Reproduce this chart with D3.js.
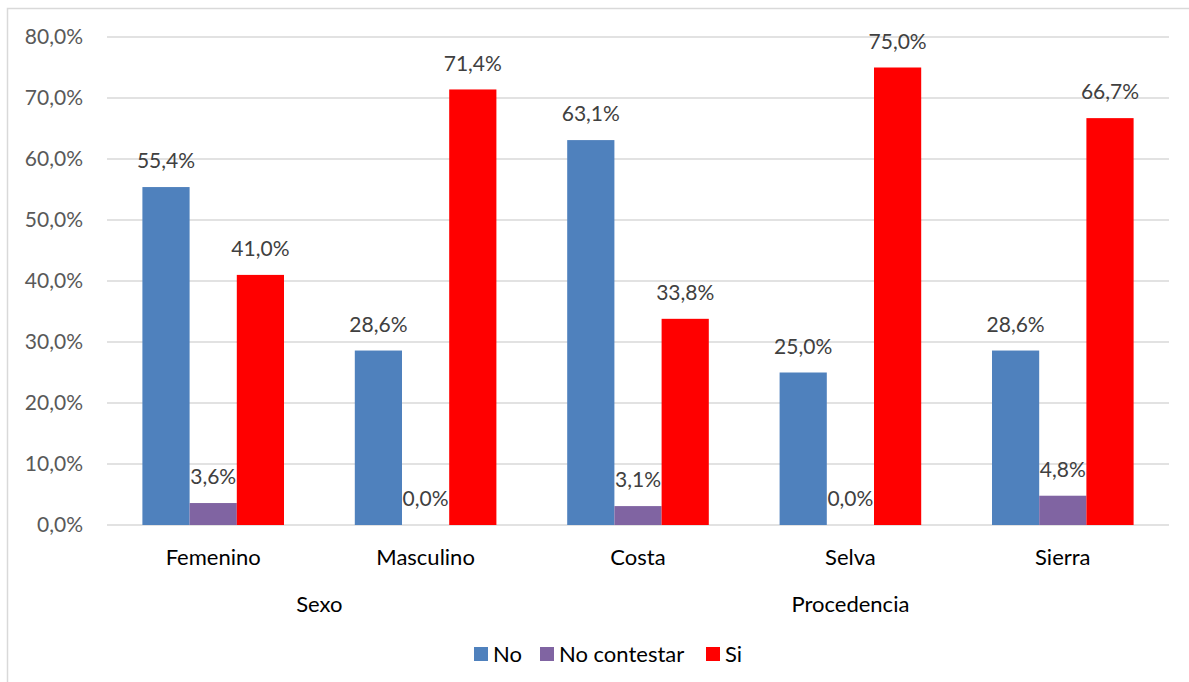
<!DOCTYPE html>
<html>
<head>
<meta charset="utf-8">
<script src="https://cdn.jsdelivr.net/npm/d3@7"></script>
<style>
  body { margin: 0; background: #fff; }
  svg { font-family: Lato, "Liberation Sans", sans-serif; }
</style>
</head>
<body>
<svg id="chart" width="1189" height="682"></svg>
<script>
// chart data
var categories = ["Femenino", "Masculino", "Costa", "Selva", "Sierra"];
var groups = [
    { name: "Sexo", from: 0, to: 1 },
    { name: "Procedencia", from: 2, to: 4 }
];
var seriesNames = ["No", "No contestar", "Si"];
var noValues = [55.4, 28.6, 63.1, 25.0, 28.6];
var noContestarValues = [3.6, 0.0, 3.1, 0.0, 4.8];
var siValues = [41.0, 71.4, 33.8, 75.0, 66.7];
var yTicks = [0, 10, 20, 30, 40, 50, 60, 70, 80];

var colors = ["#4f81bd", "#8064a2", "#ff0000"];
var seriesValues = [noValues, noContestarValues, siValues];

var svg = d3.select("#chart");
var plotLeft = 107, plotRight = 1169, plotTop = 37, plotBottom = 525;
var fontSize = "21px";
var labelSize = "22px";

// frame
svg.append("path")
    .attr("d", "M7.5,682 V8.5 H1189")
    .attr("fill", "none")
    .attr("stroke", "#d9d9d9")
    .attr("stroke-width", 1.5);

var x0 = d3.scaleBand().domain(categories).range([plotLeft, plotRight]).padding(0);
var x1 = d3.scaleBand().domain(seriesNames).range([0, x0.bandwidth()])
    .paddingInner(0).paddingOuter(0.75);
var y = d3.scaleLinear().domain([0, 80]).range([plotBottom, plotTop]);

var fmt = function (v) { return v.toFixed(1).replace(".", ",") + "%"; };

// gridlines
svg.append("g").selectAll("line")
    .data(yTicks)
    .enter()
    .append("line")
    .attr("x1", plotLeft).attr("x2", plotRight)
    .attr("y1", function (d) { return y(d); })
    .attr("y2", function (d) { return y(d); })
    .attr("stroke", "#d9d9d9")
    .attr("stroke-width", 1.5);

// y tick labels
svg.append("g").selectAll("text")
    .data(yTicks)
    .enter()
    .append("text")
    .attr("x", 83)
    .attr("y", function (d) { return y(d); })
    .attr("dy", "0.35em")
    .attr("text-anchor", "end")
    .attr("fill", "#595959")
    .style("font-size", fontSize)
    .text(fmt);

// bars
var cat = svg.append("g").selectAll("g")
    .data(categories)
    .enter()
    .append("g")
    .attr("transform", function (d) { return "translate(" + x0(d) + ",0)"; });

var cells = function (d, i) {
    return seriesNames.map(function (s, j) { return { s: s, j: j, v: seriesValues[j][i] }; });
};

cat.selectAll("rect")
    .data(cells)
    .enter()
    .append("rect")
    .attr("x", function (d) { return x1(d.s); })
    .attr("y", function (d) { return y(d.v); })
    .attr("width", x1.bandwidth())
    .attr("height", function (d) { return plotBottom - y(d.v); })
    .attr("fill", function (d) { return colors[d.j]; });

cat.selectAll("text")
    .data(cells)
    .enter()
    .append("text")
    .attr("x", function (d) { return x1(d.s) + x1.bandwidth() / 2; })
    .attr("y", function (d) { return y(d.v) - 26; })
    .attr("dy", "0.35em")
    .attr("text-anchor", "middle")
    .attr("fill", "#404040")
    .style("font-size", fontSize)
    .text(function (d) { return fmt(d.v); });

// category labels
svg.append("g").selectAll("text")
    .data(categories)
    .enter()
    .append("text")
    .attr("x", function (d) { return x0(d) + x0.bandwidth() / 2; })
    .attr("y", 557)
    .attr("dy", "0.35em")
    .attr("text-anchor", "middle")
    .attr("fill", "#000")
    .style("font-size", labelSize)
    .text(function (d) { return d; });

// group labels
svg.append("g").selectAll("text")
    .data(groups)
    .enter()
    .append("text")
    .attr("x", function (d) {
        return (x0(categories[d.from]) + x0(categories[d.to]) + x0.bandwidth()) / 2;
    })
    .attr("y", 604)
    .attr("dy", "0.35em")
    .attr("text-anchor", "middle")
    .attr("fill", "#000")
    .style("font-size", labelSize)
    .text(function (d) { return d.name; });

// legend
var legendX = [474, 540, 706];
var legend = svg.append("g").selectAll("g")
    .data(seriesNames)
    .enter()
    .append("g")
    .attr("transform", function (d, i) { return "translate(" + legendX[i] + ",647)"; });
legend.append("rect")
    .attr("width", 14).attr("height", 14)
    .attr("fill", function (d, i) { return colors[i]; });
legend.append("text")
    .attr("x", 19).attr("y", 7)
    .attr("dy", "0.35em")
    .attr("fill", "#000")
    .style("font-size", labelSize)
    .text(function (d) { return d; });
</script>
</body>
</html>
